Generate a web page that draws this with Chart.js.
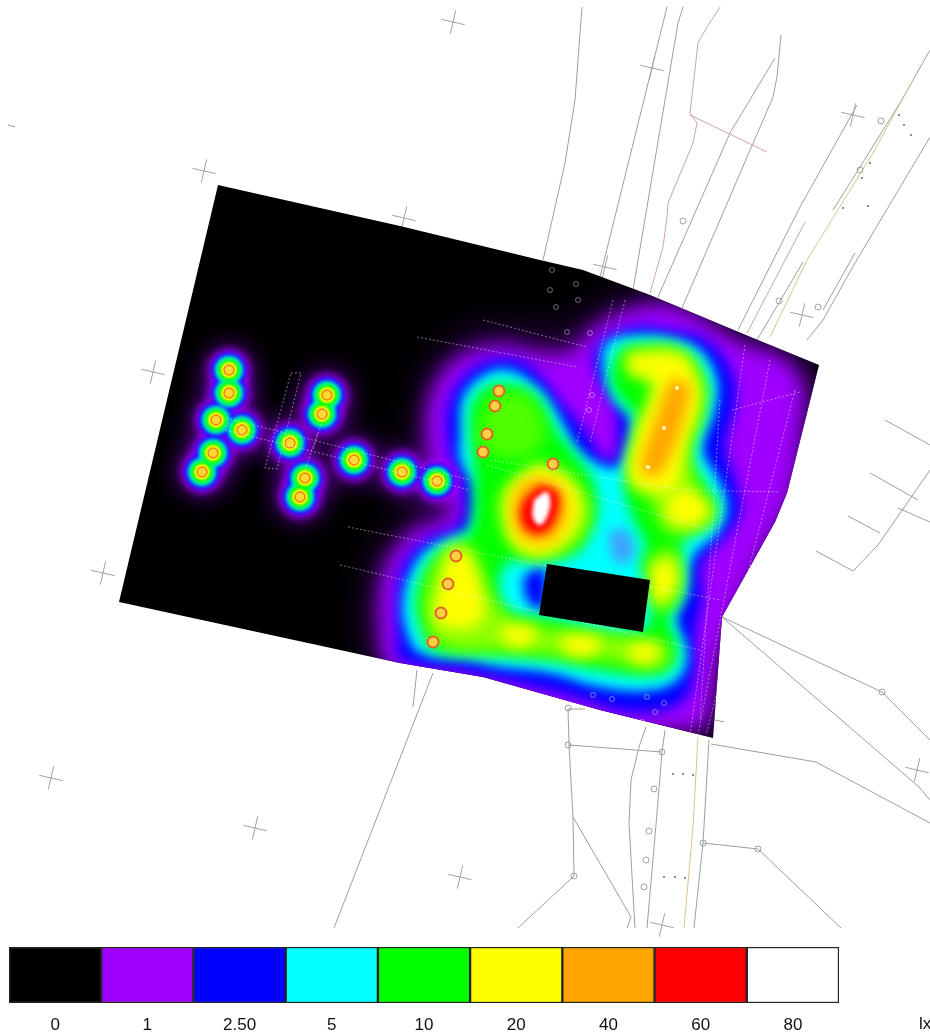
<!DOCTYPE html>
<html>
<head>
<meta charset="utf-8">
<title>Illuminance map</title>
<script src="https://cdn.jsdelivr.net/npm/chart.js@4"></script>
<style>
  html, body { margin: 0; padding: 0; background: #fff; }
  #wrap { position: relative; width: 930px; height: 1035px; overflow: hidden; }
  canvas { position: absolute; left: 0; }
  #map { top: 0; }
  #scale { top: 940px; }
  #unit { position: absolute; left: 919px; top: 1014px; font: 17px "Liberation Sans", sans-serif; color: #111; }
</style>
</head>
<body>
<div id="wrap">
  <canvas id="map" width="930" height="1035"></canvas>
  <canvas id="scale" width="930" height="95"></canvas>
  <div id="unit">lx</div>
</div>
<script>
// legend
const scaleLabels = ['0', '1', '2.50', '5', '10', '20', '40', '60', '80'];
const scaleColors = ['#000000', '#a000ff', '#0000ff', '#00ffff', '#00ff00', '#ffff00', '#ffa500', '#ff0000', '#ffffff'];
const scaleValues = [1, 1, 1, 1, 1, 1, 1, 1, 1];

// outline of the calculated area and the building inside it
const siteOutline = [[218,185],[400,226],[540,260],[583,270],[650,295],[753,338],[819,365],[787,493],[775,522],[722,617],[713,738],[600,710],[483,677],[400,663],[119,602]];
const buildingOutline = [[547,564],[650,580],[643,632],[539,615]];

// isolux contours, lowest level first
const contourHaze = [[368,625],[378,560],[410,520],[432,500],[420,440],[425,390],[455,345],[500,330],[560,335],[600,310],[660,295],[740,335],[815,370],[800,500],[720,640],[713,738],[480,680],[375,660]];
const contour1lx = [[378,612],[385,568],[414,530],[450,516],[442,490],[428,450],[430,398],[455,360],[500,345],[535,352],[570,352],[590,332],[613,316],[660,304],[700,318],[740,342],[780,356],[803,385],[800,440],[790,500],[750,580],[722,650],[705,725],[680,730],[600,730],[480,690],[390,670]];
const contour2_5lx = [[397,645],[397,600],[405,563],[432,537],[458,527],[463,495],[449,450],[450,400],[478,366],[515,360],[540,376],[557,398],[570,413],[590,438],[602,458],[615,458],[618,440],[615,407],[598,377],[598,347],[633,328],[667,330],[707,341],[732,373],[735,403],[725,447],[735,480],[740,513],[722,540],[702,563],[702,600],[695,633],[695,667],[682,702],[633,712],[567,695],[467,672],[400,660]];
const contour5lx = [[460,433],[463,397],[487,373],[510,370],[533,383],[547,397],[563,423],[577,447],[597,463],[617,467],[627,447],[630,420],[613,400],[603,367],[607,343],[633,335],[667,337],[700,350],[717,380],[715,410],[703,450],[717,477],[727,507],[717,533],[693,557],[687,593],[677,620],[687,650],[680,677],[653,690],[600,687],[550,673],[500,667],[467,660],[420,653],[407,633],[403,600],[413,567],[430,547],[460,533],[470,527],[473,487],[460,460]];
const hole2_5lx = [[523,577],[543,567],[543,610],[527,600]];
const hole2_5lxCentre = [[608,532],[626,530],[634,556],[616,562]];
const contour10lx = [[472,447],[472,405],[490,386],[517,386],[538,399],[555,429],[575,455],[592,479],[597,507],[590,531],[575,553],[533,560],[510,561],[498,583],[508,610],[540,617],[643,630],[650,583],[640,567],[646,548],[631,513],[625,487],[631,467],[638,417],[628,407],[612,383],[619,352],[640,345],[681,350],[704,378],[704,410],[690,457],[704,482],[716,507],[707,525],[685,537],[681,557],[680,593],[668,620],[676,640],[674,664],[653,675],[600,670],[550,660],[483,654],[435,650],[423,632],[416,600],[426,568],[440,553],[460,543],[472,527],[475,487]];
const contour15lx = [
  [[447,545],[470,545],[495,600],[520,622],[650,640],[670,650],[660,668],[600,660],[520,652],[440,645],[425,610],[432,570]],
  [[625,350],[680,350],[702,380],[702,410],[690,450],[700,490],[715,510],[700,530],[665,530],[650,500],[628,480],[636,430],[650,385],[628,372]],
  [[650,555],[675,550],[680,590],[665,610],[650,600]],
  [[540,460],[575,480],[590,510],[580,540],[545,558],[515,550],[500,520],[503,490]]
];
const contour12lx = [[490,395],[525,395],[545,430],[530,455],[495,455],[478,440]];
const contour20lx = [
  [[628,355],[679,355],[695,377],[699,403],[685,447],[675,489],[653,492],[631,479],[638,433],[655,382],[631,372]],
  [[665,505],[683,488],[709,510],[695,525],[671,522]],
  [[651,565],[672,561],[675,587],[657,602]],
  [[450,551],[465,551],[482,593],[482,619],[460,629],[435,619],[441,583]],
  [[501,625],[535,628],[529,645],[505,642]],
  [[561,635],[599,638],[592,655],[565,652]],
  [[628,645],[659,645],[652,662],[631,659]],
  [[538,466],[566,477],[581,507],[570,536],[543,554],[517,546],[506,517],[510,488]]
];
const contour40lx = [
  [[670,378],[689,385],[685,413],[669,459],[655,477],[641,469],[651,433]],
  [[535,477],[560,487],[567,510],[555,537],[535,543],[518,532],[513,507],[522,485]]
];
const contour60lx = [[540,485],[557,492],[557,515],[543,533],[525,528],[522,505]];
const contour80lx = [[534,500],[547,492],[550,507],[541,525],[533,518]];

// luminaires
const lampsWest = [[229,370],[229,393],[216,420],[242,430],[213,453],[202,472],[290,443],[327,395],[322,414],[305,478],[300,497],[354,460],[402,472],[437,481]];
const lampsEast = [[499,391],[495,406],[487,434],[483,452],[553,464],[456,556],[448,584],[441,613],[433,642]];
const lampsDim = [[677,388],[664,428],[648,467]];

// site plan linework around the area
const planLines = [
  [[582,7],[575,100],[565,163],[543,260]],
  [[667,7],[600,277]],
  [[683,7],[678,23],[633,290]],
  [[775,58],[730,133],[658,297]],
  [[781,35],[777,77],[773,97],[682,308]],
  [[857,105],[800,207],[738,330]],
  [[930,50],[900,103],[860,167],[833,210]],
  [[930,137],[855,263],[823,320],[807,340]],
  [[803,262],[757,340]],
  [[855,253],[823,310]],
  [[433,673],[334,928]],
  [[417,670],[413,707]],
  [[568,708],[569,745],[573,817],[574,876],[518,928]],
  [[569,745],[662,752]],
  [[573,817],[631,917],[627,928]],
  [[646,727],[639,747],[631,780],[629,823],[635,928]],
  [[665,730],[662,752],[657,813],[647,928]],
  [[709,740],[703,843],[694,928]],
  [[703,843],[758,849],[841,928]],
  [[711,744],[816,762],[930,823]],
  [[722,617],[919,787],[930,800]],
  [[722,617],[882,692],[930,740]],
  [[568,709],[585,709]],
  [[715,720],[724,722]],
  [[885,420],[930,445]],
  [[870,473],[918,500]],
  [[898,508],[930,522]],
  [[848,516],[880,533]],
  [[816,551],[853,571],[878,545],[930,470]],
  [[8,125],[15,127]]
];
const planLinesPink = [
  [[720,7],[707,27],[698,43],[690,113],[697,123],[693,143],[668,203],[667,217],[663,247],[650,293]],
  [[690,115],[767,152]],
  [[805,222],[747,333]]
];
const planLinesOrange = [
  [[912,82],[873,153],[807,260],[770,337]],
  [[698,737],[693,827],[684,928]]
];
const gridCrosses = [[453,22],[652,68],[853,115],[204,171],[404,218],[605,267],[802,315],[153,372],[103,573],[51,778],[255,828],[460,877],[662,925],[917,770]];
const planCircles = [[683,221],[881,121],[860,170],[818,307],[779,301],[654,789],[649,831],[646,860],[644,887],[568,745],[568,708],[662,752],[882,692],[703,843],[758,849],[574,876]];
const planDots = [[899,115],[904,125],[911,135],[870,163],[862,178],[843,208],[868,206],[673,774],[683,774],[693,775],[664,877],[675,877],[685,878]];

// dashed linework drawn over the calculated area
const overlayLines = [
  [[226,418],[470,480]],
  [[225,430],[470,490]],
  [[291,373],[301,373],[277,469],[265,468],[291,373]],
  [[327,405],[313,450]],
  [[305,470],[318,432]],
  [[483,320],[587,347]],
  [[417,337],[577,367]],
  [[490,460],[683,490],[780,492]],
  [[487,465],[710,530]],
  [[340,565],[700,650]],
  [[348,527],[720,600]],
  [[613,300],[577,443]],
  [[625,300],[590,443]],
  [[720,400],[700,720]],
  [[745,345],[690,735]],
  [[770,360],[698,735]],
  [[795,390],[706,735]],
  [[732,410],[800,392]]
];
const overlayCircles = [[552,270],[576,284],[550,290],[556,307],[578,300],[590,333],[567,332],[592,395],[589,410],[593,695],[612,699],[647,697],[664,703],[642,722],[655,712]];

const ds = [];
function pts(list) { return list.map(p => ({ x: p[0], y: p[1] })); }
function closed(list) { return pts(list.concat([list[0]])); }
function push(d) { d.order = 1000 - ds.length; d.pointRadius = d.pointRadius || 0; ds.push(d); }
function area(list, color, blur, smooth) {
  push({ data: closed(list), showLine: true, borderWidth: 0, tension: smooth ? 0.4 : 0, backgroundColor: color, areaFill: true, blur: blur, clipSite: blur > 0 });
}
function lines(list, color, width) {
  list.forEach(l => push({ data: pts(l), showLine: true, borderColor: color, borderWidth: width }));
}
function halo(list, color, radius, blur) {
  push({ data: pts(list), pointRadius: radius, pointBorderWidth: 0, pointBackgroundColor: color, blur: blur, clipSite: true });
}

// plan first, so the calculated area covers it
lines(planLines, '#9aa09a', 1);
lines(planLinesPink, '#d0a4a4', 1);
lines(planLinesOrange, '#dfc08e', 1);
push({ data: pts(gridCrosses), pointStyle: 'cross', pointRotation: 13, pointRadius: 12, pointBorderWidth: 1, pointBorderColor: '#9aa59a' });
push({ data: pts(planCircles), pointStyle: 'circle', pointRadius: 3, pointBorderWidth: 1, pointBorderColor: '#9aa59a', pointBackgroundColor: 'rgba(255,255,255,0)' });
push({ data: pts(planDots), pointStyle: 'circle', pointRadius: 1, pointBorderWidth: 0, pointBackgroundColor: '#666' });

area(siteOutline, '#000', 0, false);

// faint glow below 1 lx
area(contourHaze, 'rgba(90,0,150,0.5)', 18, true);
halo(lampsWest, 'rgba(90,0,150,0.5)', 30, 10);

// isolux bands
area(contour1lx, scaleColors[1], 10, true);
area(contour2_5lx, scaleColors[2], 7, true);
area(contour5lx, scaleColors[3], 6, true);
area(hole2_5lx, scaleColors[2], 6, true);
area(hole2_5lxCentre, '#40a0ff', 6, true);
area(contour10lx, scaleColors[4], 7, true);
area(contour12lx, '#50ff00', 8, true);
contour15lx.forEach(c => area(c, '#90ff00', 8, true));
contour20lx.forEach(c => area(c, scaleColors[5], 7, true));
contour40lx.forEach(c => area(c, scaleColors[6], 7, true));
area(contour60lx, scaleColors[7], 4, true);
area(contour80lx, scaleColors[8], 2, true);

// luminaires on the west path
halo(lampsWest, scaleColors[1], 21, 4);
halo(lampsWest, scaleColors[2], 17, 2);
halo(lampsWest, scaleColors[3], 14, 2);
halo(lampsWest, scaleColors[4], 11.5, 2);
halo(lampsWest, scaleColors[5], 8, 1);
push({ data: pts(lampsWest), pointRadius: 5, pointBorderWidth: 1.5, pointBorderColor: '#f08020', pointBackgroundColor: '#ffd830' });
push({ data: pts(lampsEast), pointRadius: 5.5, pointBorderWidth: 2, pointBorderColor: '#e06428', pointBackgroundColor: '#ffd040' });
push({ data: pts(lampsDim), pointRadius: 2, pointBorderWidth: 0, pointBackgroundColor: '#fff8c0' });

overlayLines.forEach(l => push({ data: pts(l), showLine: true, borderColor: 'rgba(255,255,255,0.45)', borderWidth: 1, borderDash: [2, 2], clipSite: true }));
push({ data: pts(overlayCircles), pointRadius: 2.5, pointBorderWidth: 1, pointBorderColor: 'rgba(255,255,255,0.4)', pointBackgroundColor: 'rgba(0,0,0,0)', clipSite: true });

area(buildingOutline, '#000', 0, false);

// fills the contour through the line element and softens the band edges
const bandPainter = {
  id: 'bandPainter',
  beforeDatasetDraw(chart, args) {
    const d = chart.data.datasets[args.index];
    const ctx = chart.ctx;
    ctx.save();
    if (d.clipSite) {
      const site = chart.data.datasets.find(s => s.isSite);
      const m = chart.getDatasetMeta(chart.data.datasets.indexOf(site));
      ctx.beginPath();
      m.data.forEach((p, i) => i ? ctx.lineTo(p.x, p.y) : ctx.moveTo(p.x, p.y));
      ctx.closePath();
      ctx.clip();
    }
    if (d.blur) ctx.filter = 'blur(' + d.blur + 'px)';
    if (d.areaFill) {
      const line = args.meta.dataset;
      line.updateControlPoints(chart.chartArea);
      ctx.beginPath();
      line.path(ctx);
      ctx.closePath();
      ctx.fillStyle = d.backgroundColor;
      ctx.fill();
    }
  },
  afterDatasetDraw(chart) {
    chart.ctx.restore();
  }
};
ds.find(d => d.areaFill).isSite = true;

new Chart(document.getElementById('map'), {
  type: 'scatter',
  data: { datasets: ds },
  options: {
    responsive: false,
    animation: false,
    layout: { padding: 0, autoPadding: false },
    plugins: { legend: { display: false }, tooltip: { enabled: false } },
    scales: {
      x: { type: 'linear', display: false, min: 0, max: 930 },
      y: { type: 'linear', display: false, min: 0, max: 1035, reverse: true }
    }
  },
  plugins: [bandPainter]
});

new Chart(document.getElementById('scale'), {
  type: 'bar',
  data: {
    labels: scaleLabels,
    datasets: [{
      data: scaleValues,
      backgroundColor: scaleColors,
      borderColor: '#222',
      borderWidth: 1.5,
      borderSkipped: false,
      barPercentage: 1,
      categoryPercentage: 1
    }]
  },
  options: {
    responsive: false,
    animation: false,
    layout: { padding: { left: 9, right: 91, top: 7, bottom: 0 }, autoPadding: false },
    plugins: { legend: { display: false }, tooltip: { enabled: false } },
    scales: {
      x: {
        grid: { display: false, drawTicks: false },
        border: { display: false },
        ticks: { color: '#111', font: { family: '"Liberation Sans"', size: 17 }, padding: 12, maxRotation: 0, autoSkip: false },
        afterFit(s) { s.height = 32; }
      },
      y: { display: false, min: 0, max: 1 }
    }
  }
});
</script>
</body>
</html>
